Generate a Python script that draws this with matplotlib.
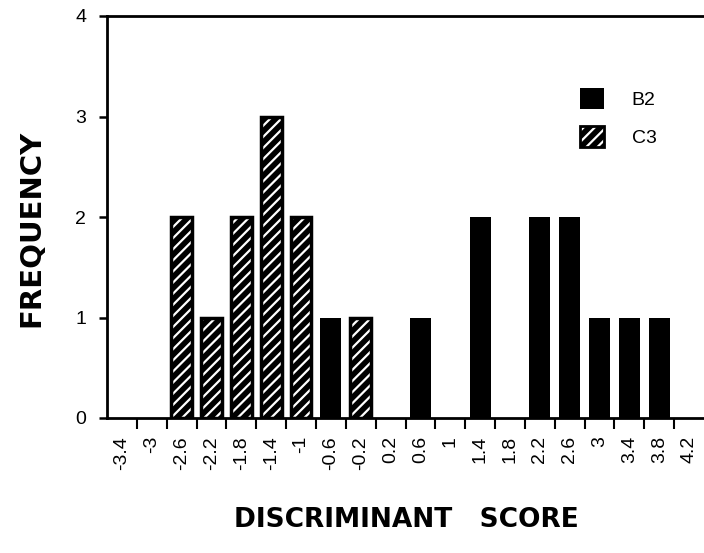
import numpy as np
import matplotlib
matplotlib.use("Agg")
import matplotlib.pyplot as plt
from matplotlib.patches import Patch
from matplotlib.legend_handler import HandlerTuple

plt.rcParams['font.family'] = ['Liberation Sans', 'DejaVu Sans']
plt.rcParams['hatch.linewidth'] = 1.6

# histogram bins (discriminant score) and counts per group
score_labels = ['-3.4', '-3', '-2.6', '-2.2', '-1.8', '-1.4', '-1', '-0.6', '-0.2', '0.2',
                '0.6', '1', '1.4', '1.8', '2.2', '2.6', '3', '3.4', '3.8', '4.2']
b2_counts = [0, 0, 0, 0, 0, 0, 0, 1, 0, 0, 1, 0, 2, 0, 2, 2, 1, 1, 1, 0]
c3_counts = [0, 0, 2, 1, 2, 3, 2, 0, 1, 0, 0, 0, 0, 0, 0, 0, 0, 0, 0, 0]
y_ticks = [0, 1, 2, 3, 4]

fig = plt.figure(figsize=(7.04, 5.53), dpi=100)
ax = fig.add_axes([107/704, 1-418/553, 1-107/704, (418-16)/553])

x = np.arange(len(score_labels))
b2 = np.array(b2_counts)
c3 = np.array(c3_counts)
w = 0.7

# solid black bars (B2)
ax.bar(x[b2 > 0], b2[b2 > 0], width=w, color='black', linewidth=0)
# hatched bars (C3): black fill with white stripes, black outline on top
ax.bar(x[c3 > 0], c3[c3 > 0], width=w, facecolor='black', edgecolor='white',
       hatch='///', linewidth=0)
ax.bar(x[c3 > 0], c3[c3 > 0], width=w, fill=False, edgecolor='black', linewidth=2.5)

# axes
ax.set_xlim(-0.5, 19.5)
ax.set_ylim(0, 4)
for s in ['left', 'top', 'bottom']:
    ax.spines[s].set_linewidth(2)
ax.spines['right'].set_visible(False)

ax.set_yticks(y_ticks)
ax.set_yticklabels([str(v) for v in y_ticks])
ax.tick_params(axis='y', direction='out', length=6, width=1.8, pad=9, labelsize=14)

ax.set_xticks(x)
ax.set_xticklabels(score_labels, rotation=90, va='top')
ax.set_xticks(x[:-1] + 0.5, minor=True)
ax.tick_params(axis='x', which='major', length=0, pad=13, labelsize=14)
ax.tick_params(axis='x', which='minor', direction='out', length=8, width=1.5)

fig.text(31/704, 1-228/553, 'FREQUENCY', rotation=90, ha='center', va='center',
         fontsize=21, fontweight='bold', family='DejaVu Sans')
fig.text(406/704, 1-520/553, 'DISCRIMINANT   SCORE', ha='center', va='center',
         fontsize=19, fontweight='bold', family='DejaVu Sans')

# legend
h_b2 = Patch(facecolor='black', edgecolor='black', linewidth=0)
h_c3 = (Patch(facecolor='black', edgecolor='white', hatch='///', linewidth=0),
        Patch(fill=False, edgecolor='black', linewidth=2))
ax.legend([h_b2, h_c3], ['B2', 'C3'], loc='upper left',
          bbox_to_anchor=(580/704, 1-88/553), bbox_transform=fig.transFigure,
          frameon=False, fontsize=14, handlelength=1.25, handleheight=1.25,
          handletextpad=1.4, labelspacing=0.9, borderpad=0, borderaxespad=0,
          handler_map={tuple: HandlerTuple(ndivide=1, pad=0)})

plt.savefig('out.png', format='png')
